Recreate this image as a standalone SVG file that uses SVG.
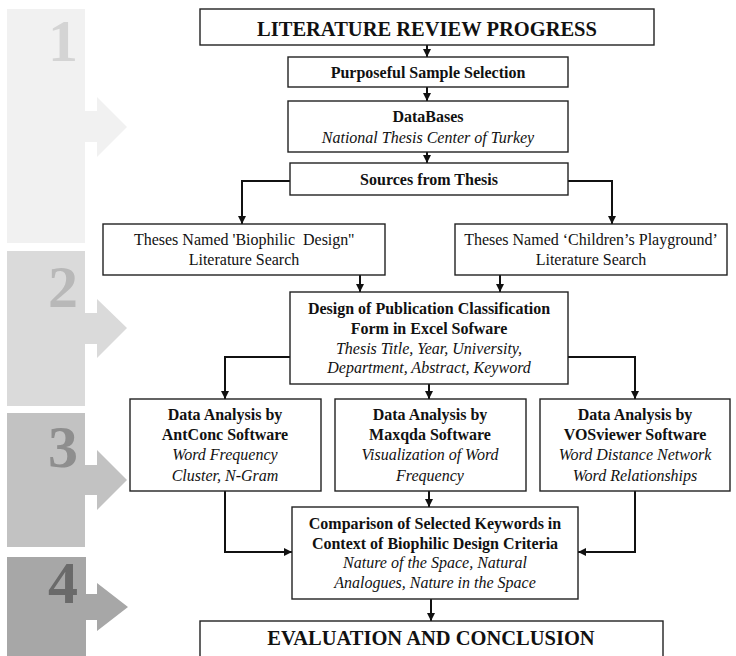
<svg xmlns="http://www.w3.org/2000/svg" width="736" height="656" viewBox="0 0 736 656">
<style>
.box{fill:#fff;stroke:#222;stroke-width:1.4}
.t{font-family:"Liberation Serif","Times New Roman",serif;font-size:16px;fill:#111;text-anchor:middle}
.b{font-weight:bold}
.i{font-style:italic}
.big{font-size:20.5px;font-weight:bold}
.num{font-family:"Liberation Serif","Times New Roman",serif;font-size:60px;font-weight:bold;text-anchor:end}
.c{fill:none;stroke:#111;stroke-width:2}
</style>
<defs>
<marker id="ah" viewBox="0 0 10 10" refX="10" refY="5" markerWidth="8" markerHeight="8" markerUnits="userSpaceOnUse" orient="auto">
<path d="M0,0 L10,5 L0,10 Z" fill="#111"/>
</marker>
</defs>
<rect width="736" height="656" fill="#fff"/>
<g id="stages">
<g id="stage1"><path d="M7,9 H85 V111 H97 V97 L127,127 L97,157 V142 H85 V243 H7 Z" fill="#f1f1f1"/><text class="num" x="78" y="61" fill="#d4d4d4">1</text></g>
<g id="stage2"><path d="M7,251 H85 V313 H97 V299 L127,328 L97,358 V344 H85 V406 H7 Z" fill="#dadada"/><text class="num" x="78" y="307" fill="#b8b8b8">2</text></g>
<g id="stage3"><path d="M7,413 H85 V465 H97 V450 L127,480 L97,510 V495 H85 V547 H7 Z" fill="#c2c2c2"/><text class="num" x="78" y="467" fill="#8e8e8e">3</text></g>
<g id="stage4"><path d="M7,557 H86 V594 H97 V583 L128,607 L97,631 V620 H86 V656 H7 Z" fill="#a7a7a7"/><text class="num" x="78" y="603" fill="#6a6a6a">4</text></g>
</g>
<g id="connectors">
<path class="c" d="M427,45 V57" marker-end="url(#ah)"/>
<path class="c" d="M427,87 V101" marker-end="url(#ah)"/>
<path class="c" d="M427,152 V163" marker-end="url(#ah)"/>
<path class="c" d="M290,181 H242 V224" marker-end="url(#ah)"/>
<path class="c" d="M568,181 H612 V224" marker-end="url(#ah)"/>
<path class="c" d="M360,275 V292" marker-end="url(#ah)"/>
<path class="c" d="M500,275 V292" marker-end="url(#ah)"/>
<path class="c" d="M290,357 H225 V399" marker-end="url(#ah)"/>
<path class="c" d="M568,357 H635 V399" marker-end="url(#ah)"/>
<path class="c" d="M429,384 V399" marker-end="url(#ah)"/>
<path class="c" d="M225,491 V552 H292" marker-end="url(#ah)"/>
<path class="c" d="M635,491 V552 H578" marker-end="url(#ah)"/>
<path class="c" d="M429,491 V507" marker-end="url(#ah)"/>
<path class="c" d="M431,599 V621" marker-end="url(#ah)"/>
</g>
<g id="n1"><rect class="box" x="200" y="9" width="454" height="36"/><text class="t big" x="427" y="36">LITERATURE REVIEW PROGRESS</text></g>
<g id="n2"><rect class="box" x="288" y="57" width="280" height="30"/><text class="t b" x="428" y="78">Purposeful Sample Selection</text></g>
<g id="n3"><rect class="box" x="288" y="101" width="280" height="51"/><text class="t b" x="428" y="122">DataBases</text><text class="t i" x="428" y="143">National Thesis Center of Turkey</text></g>
<g id="n4"><rect class="box" x="290" y="163" width="278" height="32"/><text class="t b" x="429" y="185">Sources from Thesis</text></g>
<g id="n5"><rect class="box" x="103" y="224" width="282" height="51"/><text class="t" x="244" y="245" style="white-space:pre">Theses Named 'Biophilic  Design''</text><text class="t" x="244" y="265">Literature Search</text></g>
<g id="n6"><rect class="box" x="455" y="224" width="272" height="51"/><text class="t" x="591" y="245">Theses Named ‘Children’s Playground’</text><text class="t" x="591" y="265">Literature Search</text></g>
<g id="n7"><rect class="box" x="290" y="292" width="278" height="92"/><text class="t b" x="429" y="314">Design of Publication Classification</text><text class="t b" x="429" y="334">Form in Excel Sofware</text><text class="t i" x="429" y="354">Thesis Title, Year, University,</text><text class="t i" x="429" y="373">Department, Abstract, Keyword</text></g>
<g id="n8"><rect class="box" x="130" y="399" width="191" height="92"/><text class="t b" x="225" y="420">Data Analysis by</text><text class="t b" x="225" y="440">AntConc Software</text><text class="t i" x="225" y="460">Word Frequency</text><text class="t i" x="225" y="481">Cluster, N-Gram</text></g>
<g id="n9"><rect class="box" x="335" y="399" width="191" height="92"/><text class="t b" x="430" y="420">Data Analysis by</text><text class="t b" x="430" y="440">Maxqda Software</text><text class="t i" x="430" y="460">Visualization of Word</text><text class="t i" x="430" y="481">Frequency</text></g>
<g id="n10"><rect class="box" x="540" y="399" width="190" height="92"/><text class="t b" x="635" y="420">Data Analysis by</text><text class="t b" x="635" y="440">VOSviewer Software</text><text class="t i" x="635" y="460">Word Distance Network</text><text class="t i" x="635" y="481">Word Relationships</text></g>
<g id="n11"><rect class="box" x="292" y="507" width="286" height="92"/><text class="t b" x="435" y="529">Comparison of Selected Keywords in</text><text class="t b" x="435" y="549">Context of Biophilic Design Criteria</text><text class="t i" x="435" y="568">Nature of the Space, Natural</text><text class="t i" x="435" y="588">Analogues, Nature in the Space</text></g>
<g id="n12"><rect class="box" x="200" y="621" width="463" height="45"/><text class="t big" x="431" y="645">EVALUATION AND CONCLUSION</text></g>
</svg>
